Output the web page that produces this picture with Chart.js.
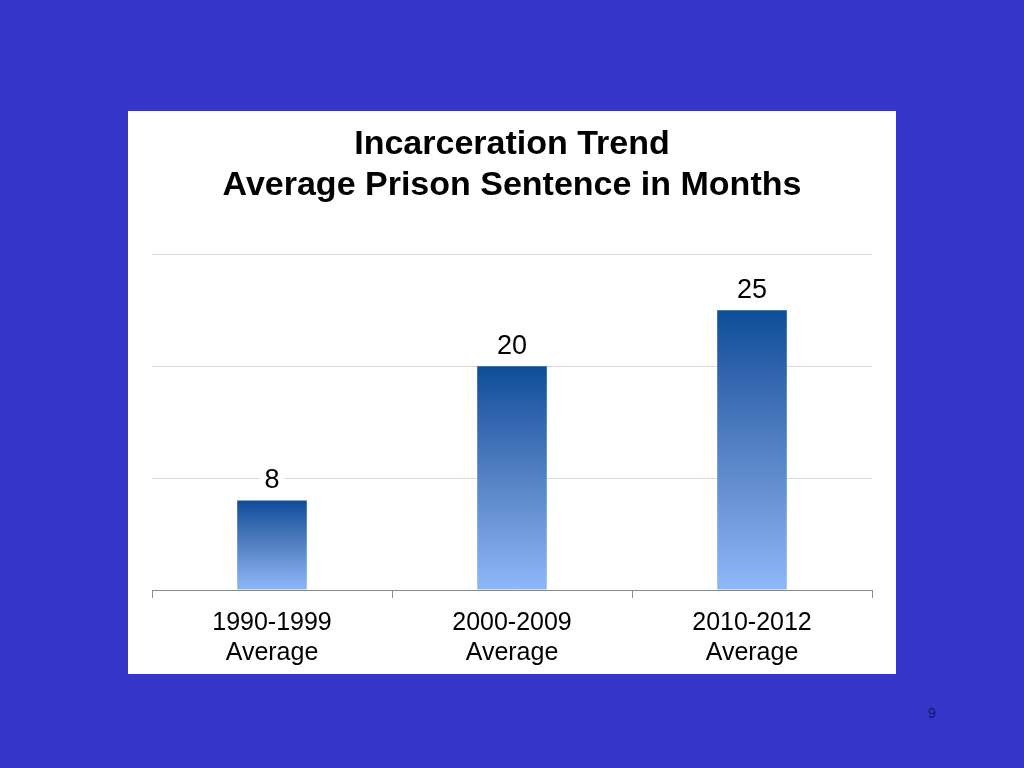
<!DOCTYPE html>
<html>
<head>
<meta charset="utf-8">
<script src="https://cdn.jsdelivr.net/npm/chart.js@4/dist/chart.umd.min.js"></script>
<style>
  html, body { margin: 0; padding: 0; }
  body { width: 1024px; height: 768px; background: #3535c9; position: relative; overflow: hidden; font-family: "Liberation Sans", Arial, sans-serif; }
  .panel { position: absolute; left: 128px; top: 111px; width: 768px; height: 563px; background: #fff; overflow: hidden; }
  .page-num { position: absolute; left: 928px; top: 705px; font-size: 14px; color: #0b1a66; }
</style>
</head>
<body>
<div class="panel"><canvas id="chart" width="768" height="567"></canvas></div>
<div class="page-num">9</div>
<script>
// data
const categories = [['1990-1999', 'Average'], ['2000-2009', 'Average'], ['2010-2012', 'Average']];
const sentenceMonths = [8, 20, 25];
const titleLines = ['Incarceration Trend', 'Average Prison Sentence in Months'];

// gradient per bar: dark blue at top, light blue at the base
function barGradient(ctx) {
    const chart = ctx.chart;
    if (!chart.chartArea) return '#5580c0';
    const y = chart.scales.y;
    const top = y.getPixelForValue(ctx.raw);
    const base = y.getPixelForValue(0);
    const g = chart.ctx.createLinearGradient(0, top, 0, base);
    g.addColorStop(0, '#0f4d99');
    g.addColorStop(0.45, '#4f7cc0');
    g.addColorStop(1, '#8eb8f8');
    return g;
}

// value labels above bars
const valueLabels = {
    id: 'valueLabels',
    afterDatasetsDraw(chart) {
        const { ctx } = chart;
        const meta = chart.getDatasetMeta(0);
        ctx.save();
        ctx.font = '27px "Liberation Sans", Arial, sans-serif';
        ctx.textAlign = 'center';
        ctx.textBaseline = 'middle';
        meta.data.forEach((bar, i) => {
            const txt = String(sentenceMonths[i]);
            const w = ctx.measureText(txt).width;
            ctx.fillStyle = '#fff';
            ctx.fillRect(bar.x - w / 2 - 4, bar.y - 34, w + 8, 28);
            ctx.fillStyle = '#000';
            ctx.fillText(txt, bar.x, bar.y - 20);
        });
        ctx.restore();
    }
};

new Chart(document.getElementById('chart'), {
    type: 'bar',
    data: {
        labels: categories,
        datasets: [{ data: sentenceMonths, backgroundColor: barGradient, barPercentage: 0.29, categoryPercentage: 1 }]
    },
    options: {
        responsive: false,
        animation: false,
        layout: { padding: { left: 24, right: 24, top: 0, bottom: 0 } },
        plugins: {
            legend: { display: false },
            tooltip: { enabled: false },
            title: {
                display: true,
                text: titleLines,
                color: '#000',
                font: { family: '"Liberation Sans", Arial, sans-serif', size: 34, weight: 'bold', lineHeight: 1.18 },
                padding: { top: 14, bottom: 49 }
            }
        },
        scales: {
            y: {
                min: 0, max: 30,
                ticks: { display: false, stepSize: 10 },
                grid: { color: '#dcdcdc', drawTicks: false },
                border: { display: false }
            },
            x: {
                grid: { display: true, offset: true, drawOnChartArea: false, color: '#8c8c8c', tickLength: 8 },
                border: { color: '#8c8c8c' },
                ticks: { color: '#000', font: { family: '"Liberation Sans", Arial, sans-serif', size: 25, lineHeight: 1.2 }, padding: 10 }
            }
        }
    },
    plugins: [valueLabels]
});
</script>
</body>
</html>
